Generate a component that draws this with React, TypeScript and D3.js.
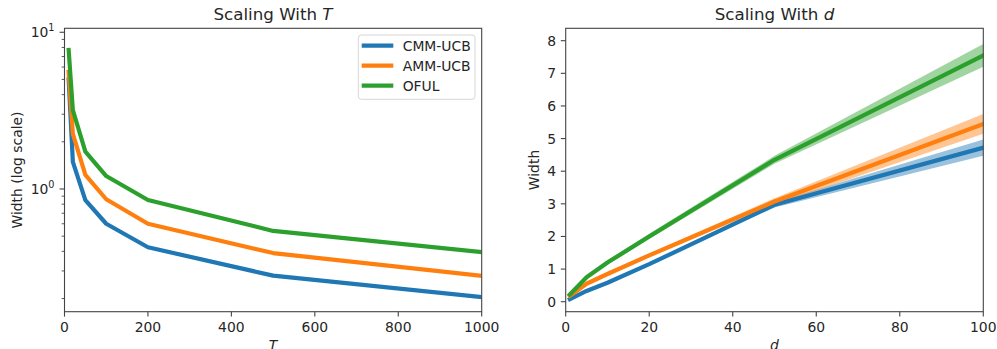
import React from "react";
import * as d3 from "d3";

// left panel: width vs T (log y)
const T_VALUES = [10, 20, 50, 100, 200, 500, 1000];
const CMM_T = [5.0, 1.49, 0.85, 0.6, 0.425, 0.28, 0.204];
const AMM_T = [5.58, 2.25, 1.23, 0.86, 0.6, 0.39, 0.279];
const OFUL_T = [7.7, 3.19, 1.73, 1.21, 0.85, 0.54, 0.395];

// right panel: width vs d, with spread bands
const D_VALUES = [1, 5, 10, 20, 50, 100];
const CMM_D = [0.08, 0.33, 0.58, 1.15, 2.97, 4.72];
const CMM_D_SD = [0.02, 0.02, 0.03, 0.04, 0.08, 0.25];
const AMM_D = [0.18, 0.55, 0.85, 1.42, 3.07, 5.45];
const AMM_D_SD = [0.02, 0.03, 0.04, 0.06, 0.1, 0.3];
const OFUL_D = [0.22, 0.75, 1.2, 2.0, 4.35, 7.55];
const OFUL_D_SD = [0.03, 0.05, 0.07, 0.08, 0.12, 0.35];

const LEGEND = ["CMM-UCB", "AMM-UCB", "OFUL"];
const COLORS = ["#1f77b4", "#ff7f0e", "#2ca02c"];

const X_TICKS_T = [0, 200, 400, 600, 800, 1000];
const X_TICKS_D = [0, 20, 40, 60, 80, 100];
const Y_TICKS_D = [0, 1, 2, 3, 4, 5, 6, 7, 8];

const FONT = "DejaVu Sans, sans-serif";
const FS = 13.9;
const TXT = "#262626";
const SPINE = "#444";

const TOP = 28.3;
const BOTTOM = 311.7;

export default function App() {
  // left axes
  const xl = d3.scaleLinear().domain([0, 1000]).range([64.5, 481.7]);
  const yl = d3.scaleLog().domain([0.1648, 10.6]).range([BOTTOM, TOP]);
  // right axes
  const xr = d3.scaleLinear().domain([0, 100]).range([565.7, 983.3]);
  const yr = d3.scaleLinear().domain([-0.306, 8.38]).range([BOTTOM, TOP]);

  const lineL = d3
    .line<number>()
    .x((_, i) => xl(T_VALUES[i]))
    .y((v) => yl(v));
  const lineR = d3
    .line<number>()
    .x((_, i) => xr(D_VALUES[i]))
    .y((v) => yr(v));

  const bandR = (mean: number[], sd: number[]) =>
    d3
      .area<number>()
      .x((_, i) => xr(D_VALUES[i]))
      .y0((v, i) => yr(v - sd[i]))
      .y1((v, i) => yr(v + sd[i]))(mean) as string;

  const leftSeries = [CMM_T, AMM_T, OFUL_T];
  const rightSeries = [
    [CMM_D, CMM_D_SD],
    [AMM_D, AMM_D_SD],
    [OFUL_D, OFUL_D_SD],
  ];

  const minorL: number[] = [];
  [0.1, 1].forEach((base) => {
    for (let k = 2; k <= 9; k++) minorL.push(base * k);
  });
  const minorVisible = minorL.filter((v) => v >= 0.1648 && v <= 10.6);

  const xAxis = (scale: d3.ScaleLinear<number, number>, ticks: number[]) => (
    <g>
      {ticks.map((t) => (
        <g key={t}>
          <line x1={scale(t)} x2={scale(t)} y1={BOTTOM} y2={BOTTOM + 4.9} stroke={SPINE} strokeWidth={1.1} />
          <text x={scale(t)} y={332.3} textAnchor="middle" fontSize={FS} fill={TXT}>
            {t}
          </text>
        </g>
      ))}
    </g>
  );

  const frame = (x0: number, x1: number) => (
    <rect x={x0} y={TOP} width={x1 - x0} height={BOTTOM - TOP} fill="none" stroke={SPINE} strokeWidth={1.1} />
  );

  return (
    <svg
      width={997}
      height={349}
      style={{ position: "absolute", left: 0, top: 0, background: "#fff" }}
      fontFamily={FONT}
    >
      <defs>
        <clipPath id="clipL">
          <rect x={64.5} y={TOP} width={481.7 - 64.5} height={BOTTOM - TOP} />
        </clipPath>
        <clipPath id="clipR">
          <rect x={565.7} y={TOP} width={983.3 - 565.7} height={BOTTOM - TOP} />
        </clipPath>
      </defs>
      <rect width={997} height={349} fill="#fff" />

      {/* ---- left panel ---- */}
      <g clipPath="url(#clipL)">
        {leftSeries.map((s, i) => (
          <path
            key={i}
            d={lineL(s) as string}
            fill="none"
            stroke={COLORS[i]}
            strokeWidth={4.2}
            strokeLinejoin="round"
            strokeLinecap="square"
          />
        ))}
      </g>
      {frame(64.5, 481.7)}
      {xAxis(xl, X_TICKS_T)}
      {minorVisible.map((v) => (
        <line key={v} x1={64.5} x2={64.5 - 2.8} y1={yl(v)} y2={yl(v)} stroke={SPINE} strokeWidth={0.9} />
      ))}
      {[1, 10].map((v, i) => (
        <g key={v}>
          <line x1={64.5} x2={64.5 - 4.9} y1={yl(v)} y2={yl(v)} stroke={SPINE} strokeWidth={1.1} />
          <text x={54.5} y={yl(v) + 5} textAnchor="end" fontSize={FS} fill={TXT}>
            10
            <tspan fontSize={9.7} dy={-6}>
              {i}
            </tspan>
          </text>
        </g>
      ))}
      <text
        transform={`translate(22,${(TOP + BOTTOM) / 2}) rotate(-90)`}
        textAnchor="middle"
        fontSize={FS}
        fill={TXT}
      >
        Width (log scale)
      </text>
      <text x={273} y={19.5} textAnchor="middle" fontSize={16.7} fill={TXT}>
        Scaling With <tspan fontStyle="italic">T</tspan>
      </text>
      <text x={273} y={349.5} textAnchor="middle" fontSize={FS} fontStyle="italic" fill={TXT}>
        T
      </text>

      {/* legend */}
      <rect x={358.3} y={35} width={116.7} height={64.3} rx={3} fill="#fff" fillOpacity={0.8} stroke="#d6d6d6" strokeWidth={1} />
      {LEGEND.map((name, i) => (
        <g key={name}>
          <line x1={361.7} x2={393.3} y1={45.7 + i * 20} y2={45.7 + i * 20} stroke={COLORS[i]} strokeWidth={4.2} />
          <text x={402.7} y={45.7 + i * 20 + 5} fontSize={FS} fill={TXT}>
            {name}
          </text>
        </g>
      ))}

      {/* ---- right panel ---- */}
      <g clipPath="url(#clipR)">
        {rightSeries.map(([m, sd], i) => (
          <path key={"b" + i} d={bandR(m, sd)} fill={COLORS[i]} fillOpacity={0.45} stroke="none" />
        ))}
        {rightSeries.map(([m], i) => (
          <path
            key={"l" + i}
            d={lineR(m) as string}
            fill="none"
            stroke={COLORS[i]}
            strokeWidth={4.2}
            strokeLinejoin="round"
            strokeLinecap="square"
          />
        ))}
      </g>
      {frame(565.7, 983.3)}
      {xAxis(xr, X_TICKS_D)}
      {Y_TICKS_D.map((t) => (
        <g key={t}>
          <line x1={565.7} x2={565.7 - 4.9} y1={yr(t)} y2={yr(t)} stroke={SPINE} strokeWidth={1.1} />
          <text x={556} y={yr(t) + 5} textAnchor="end" fontSize={FS} fill={TXT}>
            {t}
          </text>
        </g>
      ))}
      <text
        transform={`translate(539,${(TOP + BOTTOM) / 2}) rotate(-90)`}
        textAnchor="middle"
        fontSize={FS}
        fill={TXT}
      >
        Width
      </text>
      <text x={774.5} y={19.5} textAnchor="middle" fontSize={16.7} fill={TXT}>
        Scaling With <tspan fontStyle="italic">d</tspan>
      </text>
      <text x={774.5} y={349.5} textAnchor="middle" fontSize={FS} fontStyle="italic" fill={TXT}>
        d
      </text>
    </svg>
  );
}
